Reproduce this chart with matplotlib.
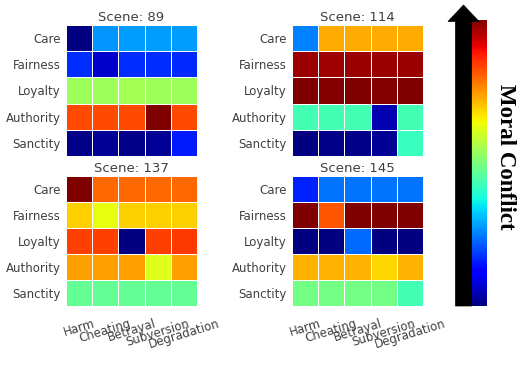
import numpy as np
import matplotlib.pyplot as plt
from matplotlib.patches import Polygon
from matplotlib.colors import Normalize

OUTPUT_PATH = 'out.png'

foundations = ['Care', 'Fairness', 'Loyalty', 'Authority', 'Sanctity']
violations = ['Harm', 'Cheating', 'Betrayal', 'Subversion', 'Degradation']
scenes = [89, 114, 137, 145]

# conflict scores per scene (rows = foundations, cols = violations)
scene_89 = [
    [0.00, 0.27, 0.28, 0.28, 0.28],
    [0.17, 0.07, 0.17, 0.17, 0.165],
    [0.54, 0.54, 0.55, 0.54, 0.54],
    [0.83, 0.83, 0.83, 1.00, 0.83],
    [0.01, 0.02, 0.01, 0.02, 0.15],
]
scene_114 = [
    [0.25, 0.73, 0.73, 0.73, 0.73],
    [0.975, 0.97, 0.975, 0.975, 0.975],
    [1.00, 0.995, 1.00, 0.995, 1.00],
    [0.43, 0.43, 0.43, 0.045, 0.43],
    [0.00, 0.01, 0.01, 0.02, 0.42],
]
scene_137 = [
    [1.00, 0.80, 0.80, 0.80, 0.80],
    [0.69, 0.63, 0.69, 0.69, 0.69],
    [0.84, 0.84, 0.00, 0.84, 0.85],
    [0.74, 0.74, 0.74, 0.62, 0.74],
    [0.47, 0.47, 0.47, 0.47, 0.47],
]
scene_145 = [
    [0.16, 0.24, 0.24, 0.24, 0.24],
    [1.00, 0.82, 1.00, 1.00, 1.00],
    [0.00, 0.00, 0.23, 0.00, 0.00],
    [0.72, 0.72, 0.72, 0.68, 0.72],
    [0.49, 0.49, 0.49, 0.49, 0.43],
]
scene_values = [scene_89, scene_114, scene_137, scene_145]

W, H = 525, 365
TEXT_COLOR = '#404040'


def px_rect(x0, y0, x1, y1):
    """pixel box (top-left origin) -> figure fraction rect"""
    return [x0 / W, (H - y1) / H, (x1 - x0) / W, (y1 - y0) / H]


fig = plt.figure(figsize=(W / 100, H / 100), dpi=100)
cmap = plt.colormaps['jet']
norm = Normalize(0, 1)

boxes = [
    (66, 25, 197, 156),
    (292, 25, 423, 156),
    (66, 176, 197, 306),
    (292, 176, 423, 306),
]

for i, (scene, vals, box) in enumerate(zip(scenes, scene_values, boxes)):
    ax = fig.add_axes(px_rect(*box))
    data = np.array(vals)
    ax.pcolormesh(data, cmap=cmap, norm=norm, edgecolors='white', linewidth=0.7)
    ax.set_xlim(0, 5)
    ax.set_ylim(5, 0)
    ax.set_title(f'Scene: {scene}', fontsize=9.5, color=TEXT_COLOR, pad=3)
    ax.set_yticks(np.arange(5) + 0.5)
    ax.set_yticklabels(foundations, fontsize=8.5, color=TEXT_COLOR)
    if i >= 2:
        ax.set_xticks(np.arange(5) + 0.5)
        ax.set_xticklabels(violations, fontsize=8.5, color=TEXT_COLOR, rotation=17, ha='center')
    else:
        ax.set_xticks([])
    ax.tick_params(axis='y', length=0, pad=4)
    ax.tick_params(axis='x', length=0, pad=8)
    for s in ax.spines.values():
        s.set_visible(False)

# colorbar strip
cax = fig.add_axes(px_rect(471, 20, 487, 306))
grad = np.linspace(0, 1, 256).reshape(-1, 1)
cax.imshow(grad, cmap=cmap, aspect='auto', origin='lower', extent=(0, 1, 0, 1))
cax.set_axis_off()

# black arrow + label drawn in pixel coords
over = fig.add_axes([0, 0, 1, 1])
over.set_xlim(0, W)
over.set_ylim(H, 0)
over.set_axis_off()
arrow = Polygon(
    [(455.5, 306), (471.5, 306), (471.5, 21.5), (479, 21.5), (463.5, 5), (448, 21.5), (455.5, 21.5)],
    closed=True, facecolor='black', edgecolor='black', lw=0.5,
)
over.add_patch(arrow)
over.text(505, 157, 'Moral Conflict', rotation=270, ha='center', va='center',
          fontsize=16.5, fontweight='bold', family='Liberation Serif', color='black')

fig.savefig(OUTPUT_PATH, dpi=100)
plt.close(fig)
